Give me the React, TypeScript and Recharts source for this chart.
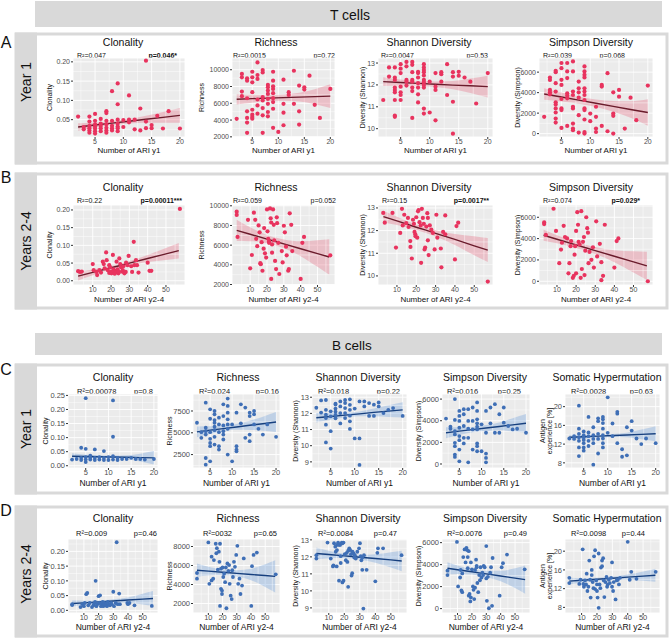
import React from 'react';
import { ComposedChart, Scatter, Line, Area, XAxis, YAxis, CartesianGrid, ReferenceLine } from 'recharts';

type Pt = [number, number];
type Fit = [number, number, number, number]; // x, fit, lower, upper

// ---------------- T cells, Year 1 ----------------
const tClonY1: Pt[] = [[2,0.058],[3,0.031],[3,0.025],[4,0.058],[4,0.045],[4,0.034],[4,0.028],[4,0.022],[4,0.016],[5,0.065],[5,0.047],[5,0.038],[5,0.032],[5,0.027],[5,0.020],[5,0.014],[6,0.052],[6,0.040],[6,0.034],[6,0.028],[6,0.020],[7,0.072],[7,0.067],[7,0.047],[7,0.038],[7,0.029],[7,0.022],[7,0.016],[8,0.124],[8,0.047],[8,0.034],[8,0.028],[8,0.022],[9,0.144],[9,0.090],[9,0.050],[9,0.040],[9,0.032],[9,0.028],[9,0.020],[10,0.049],[10,0.031],[11,0.113],[11,0.050],[11,0.043],[12,0.050],[12,0.025],[13,0.079],[13,0.022],[14,0.203],[14,0.045],[14,0.028],[15,0.036],[15,0.028],[16,0.060],[17,0.027],[18,0.072],[20,0.027]];
const tClonY1Fit: Fit[] = [[2,0.031,0.021,0.041],[5,0.036,0.030,0.042],[8,0.041,0.036,0.046],[11,0.046,0.040,0.052],[14,0.051,0.042,0.060],[17,0.056,0.042,0.070],[20,0.061,0.042,0.080]];

const tRichY1: Pt[] = [[2,4150],[3,9500],[3,9100],[3,7400],[3,6850],[4,8980],[4,8700],[4,6600],[4,5040],[4,4250],[4,3700],[4,2480],[5,9760],[5,9100],[5,8500],[5,7320],[5,5230],[5,4640],[5,4370],[5,4170],[6,10870],[6,9370],[6,8900],[6,6450],[6,5750],[6,4760],[7,9960],[7,9680],[7,6730],[7,6340],[7,5430],[7,4560],[7,2480],[8,8190],[8,7910],[8,7520],[8,7120],[8,6530],[8,5940],[8,4960],[8,4440],[9,9760],[9,8700],[9,8030],[9,7710],[9,7200],[9,6610],[9,6140],[9,5350],[9,3070],[10,2590],[11,8820],[11,5940],[11,4880],[11,3380],[12,7320],[12,7000],[13,9880],[13,5940],[14,8110],[14,5040],[14,3460],[15,7910],[15,7640],[16,9290],[17,5820],[18,4250],[20,7710]];
const tRichY1Fit: Fit[] = [[2,6490,5860,7120],[5,6550,6070,7030],[8,6610,6260,6960],[11,6670,6300,7040],[14,6730,6200,7260],[17,6790,5900,7680],[20,6850,5430,8270]];

const tShanY1: Pt[] = [[2,11.31],[3,12.8],[3,12.38],[4,12.8],[4,12.34],[4,12.23],[4,11.88],[4,11.77],[4,11.66],[4,11.31],[4,10.6],[4,10.54],[5,12.95],[5,12.74],[5,12.54],[5,11.92],[5,11.66],[5,11.54],[5,11.31],[6,13.05],[6,12.85],[6,12.23],[6,12.15],[6,11.97],[7,13.05],[7,12.92],[7,12.58],[7,12.23],[7,12.15],[7,11.88],[7,11.72],[7,10.49],[8,12.6],[8,12.54],[8,12.34],[8,12.08],[8,11.88],[8,11.57],[8,11.2],[9,12.95],[9,12.8],[9,12.68],[9,12.58],[9,12.43],[9,12.23],[9,12.12],[9,12.0],[9,11.88],[9,10.92],[9,10.69],[10,12.15],[10,10.74],[11,12.54],[11,11.92],[11,11.77],[11,10.38],[12,12.58],[12,12.49],[12,12.15],[13,12.95],[13,11.54],[14,12.58],[14,12.38],[14,11.23],[14,9.77],[15,12.6],[15,12.42],[16,12.34],[17,12.15],[18,11.15],[20,12.54]];
const tShanY1Fit: Fit[] = [[2,12.15,11.95,12.35],[5,12.11,11.97,12.25],[8,12.07,11.96,12.18],[11,12.03,11.9,12.16],[14,11.99,11.8,12.18],[17,11.96,11.63,12.29],[20,11.92,11.42,12.42]];

const tSimpY1: Pt[] = [[2,1640],[3,5475],[3,5245],[3,4260],[3,4030],[3,3830],[4,6130],[4,6000],[4,4920],[4,4100],[4,3050],[4,2850],[4,2460],[4,2060],[4,1470],[4,1080],[5,6890],[5,6390],[5,5250],[5,4750],[5,3380],[5,2460],[5,2300],[5,560],[6,6890],[6,6070],[6,5420],[6,3930],[6,3700],[6,3440],[6,750],[7,7050],[7,6070],[7,4100],[7,3770],[7,2620],[7,2460],[7,980],[7,490],[7,330],[8,5080],[8,4430],[8,4030],[8,3510],[8,1800],[8,100],[9,6560],[9,6070],[9,5740],[9,5480],[9,4430],[9,4100],[9,3770],[9,3280],[9,2460],[9,2300],[9,1380],[9,160],[9,0],[10,1960],[10,1210],[11,2620],[11,1640],[11,490],[11,160],[12,4750],[12,4590],[12,750],[13,5900],[13,230],[14,4030],[14,1960],[14,1740],[14,0],[15,4260],[15,3610],[16,490],[17,3510],[18,1310],[20,4690]];
const tSimpY1Fit: Fit[] = [[2,3870,3300,4440],[5,3570,3130,4010],[8,3270,2920,3620],[11,2960,2590,3330],[14,2660,2130,3190],[17,2360,1560,3160],[20,2060,770,3350]];

// ---------------- T cells, Years 2-4 ----------------
const tClonY24: Pt[] = [[2,0.027],[3,0.025],[4,0.026],[10,0.047],[10.5,0.030],[12,0.025],[12.4,0.016],[13.6,0.030],[14.5,0.023],[15.5,0.054],[16,0.047],[16.5,0.035],[17.3,0.080],[17.6,0.058],[18.2,0.030],[19,0.044],[19,0.022],[19.5,0.038],[20,0.025],[20.2,0.021],[21,0.073],[21.3,0.032],[21.8,0.023],[22,0.020],[22.4,0.028],[23,0.054],[23,0.024],[23.6,0.032],[24,0.021],[24.2,0.025],[24.5,0.063],[25,0.047],[25.5,0.038],[26,0.026],[26.4,0.030],[26.7,0.041],[27.3,0.021],[28,0.025],[28.2,0.051],[29,0.044],[29.6,0.070],[31,0.041],[31.5,0.025],[32.4,0.110],[32.7,0.044],[33.6,0.058],[34.2,0.044],[35,0.023],[40,0.051],[41,0.028],[42,0.028],[57.6,0.203]];
const tClonY24Fit: Fit[] = [[2,0.013,0.001,0.025],[10,0.0235,0.0155,0.0315],[20,0.0366,0.0316,0.0416],[25,0.0431,0.0381,0.0481],[30,0.0497,0.0437,0.0557],[40,0.0628,0.0528,0.0728],[50,0.0758,0.0588,0.0928],[57,0.085,0.063,0.107]];

const tRichY24: Pt[] = [[2,9400],[2,9070],[2.5,6840],[8.7,8570],[10,3640],[11,5000],[12.2,9300],[13,8570],[13.6,6640],[14.2,5900],[15,8000],[15.6,7300],[16,4170],[16.3,4070],[16.8,6300],[17.3,3400],[18,5640],[18.3,7740],[18.8,5170],[19.5,4740],[20,9630],[20.3,7400],[20.7,6640],[21.2,6400],[21.2,6240],[21.8,9730],[22.2,8730],[22.5,8300],[23,6070],[23,5240],[22.5,2570],[23.6,9630],[24,8070],[24.3,6500],[24.8,4400],[25.4,3570],[25.8,8830],[26,8230],[26.7,6240],[27.3,3070],[28.8,5400],[29.3,4240],[30,7970],[30.6,7300],[31.3,5840],[31.7,4970],[32.6,3400],[33,3570],[33.5,9230],[34.4,8070],[35,5400],[40,2570],[41,6240],[42,6840],[57.6,4970]];
const tRichY24Fit: Fit[] = [[2,7500,6420,8580],[10,7107,6407,7807],[20,6616,6196,7036],[25,6370,5970,6770],[30,6125,5675,6575],[40,5634,4884,6384],[50,5143,3793,6493],[57,4800,3000,6600]];

const tShanY24: Pt[] = [[2.9,12.78],[3.7,12.35],[7.7,12.78],[9.5,11.25],[11.7,11.9],[12.6,12.96],[13.8,12.7],[13,12.23],[14.8,12.33],[15.7,12.56],[16,12.16],[16.9,11.54],[17,11.28],[17.7,10.77],[18.3,12.48],[18.8,12.3],[19.1,11.94],[19.5,11.84],[19.6,11.75],[20,12.59],[20.5,11.69],[20.9,12.85],[21.2,12.91],[21.7,12.37],[22.3,12.23],[22.5,10.58],[22.9,12.96],[23.4,12.56],[23.9,12.3],[24.3,11.17],[24.6,11.25],[25.2,12.18],[25.7,12.77],[26,12.56],[26,11.57],[26.4,10.92],[27,12.23],[27.8,12.04],[28.6,11.9],[29.5,11.17],[30.4,12.7],[30.9,11.69],[32.7,11.21],[33,10.38],[33.9,11.94],[35,12.67],[35,11.84],[40,10.73],[40.8,12.2],[41.7,12.35],[57,9.75]];
const tShanY24Fit: Fit[] = [[3,12.62,12.36,12.88],[10,12.43,12.25,12.61],[20,12.15,12.03,12.27],[25,12.02,11.9,12.14],[30,11.88,11.74,12.02],[40,11.61,11.37,11.85],[50,11.33,10.91,11.75],[57,11.14,10.61,11.67]];

const tSimpY24: Pt[] = [[3.3,5520],[3.3,5360],[4.2,4340],[8.2,6800],[9.5,4720],[11.2,1700],[12.1,2970],[12.6,3610],[13.5,5200],[14.2,4150],[15.3,4020],[16,740],[16.5,1700],[17.1,3290],[17.4,3770],[18.3,320],[18.8,510],[19.2,2490],[19.5,3290],[20,740],[20,4720],[20.6,6480],[21,5300],[21.3,3700],[21.8,3450],[22.4,320],[22.7,6570],[23,1150],[23.6,3700],[24.1,4150],[24.4,580],[24.8,2870],[25.3,6000],[25.8,4980],[26.2,4560],[26.5,1700],[27,2750],[28,2010],[28.8,3190],[29.3,1280],[30.5,5620],[31,2330],[32.4,3510],[33.2,100],[33.2,1790],[34.1,510],[35,5300],[40,1280],[41.2,3770],[42.1,4020],[57.5,0]];
const tSimpY24Fit: Fit[] = [[3,4310,3800,4820],[10,3938,3568,4308],[20,3407,3117,3697],[25,3141,2851,3431],[30,2876,2546,3206],[40,2345,1785,2905],[50,1814,814,2814],[57,1440,110,2770]];

// ---------------- B cells, Year 1 ----------------
const bClonY1: Pt[] = [[2,0.022],[3,0.024],[4,0.028],[4,0.064],[4,0.020],[5,0.24],[5,0.06],[5,0.031],[5,0.022],[5,0.013],[6,0.028],[6,0.022],[6,0.036],[7,0.058],[7,0.028],[7,0.020],[8,0.031],[8,0.022],[9,0.052],[9,0.028],[9,0.020],[10,0.031],[10,0.020],[11,0.232],[11,0.103],[11,0.034],[11,0.022],[12,0.028],[12,0.020],[13,0.024],[14,0.024],[15,0.028],[16,0.024],[17,0.024],[18,0.022],[20,0.024]];
const bClonY1Fit: Fit[] = [[2,0.034,0.024,0.044],[5,0.033,0.027,0.039],[8,0.032,0.027,0.037],[11,0.031,0.026,0.036],[14,0.030,0.023,0.037],[17,0.029,0.015,0.043],[20,0.028,0.004,0.052]];

const bRichY1: Pt[] = [[2,6150],[3,5075],[3,4420],[4,8460],[4,5580],[4,5190],[4,4800],[4,2110],[4,1340],[5,7690],[5,6610],[5,5075],[5,4310],[5,3840],[5,3460],[5,1730],[6,7500],[6,7120],[6,6460],[6,6150],[6,5690],[6,5300],[6,4540],[6,3650],[7,6730],[7,5960],[7,5075],[7,3460],[7,3070],[8,8270],[8,6920],[8,5850],[8,5190],[8,4800],[8,4230],[9,8920],[9,8080],[9,7310],[9,6540],[9,5960],[9,5460],[9,2500],[10,5960],[10,1730],[11,7310],[11,3460],[11,3070],[11,2880],[12,8270],[12,6080],[13,7890],[13,4420],[14,7310],[14,6920],[14,4800],[14,4040],[15,7500],[15,7120],[15,5960],[16,5460],[17,4800],[18,5960],[20,4540]];
const bRichY1Fit: Fit[] = [[2,5110,4490,5730],[5,5300,4850,5750],[8,5480,5180,5780],[11,5670,5340,6000],[14,5860,5330,6390],[17,6040,5230,6850],[20,6230,5080,7380]];

const bShanY1: Pt[] = [[2,12.35],[3,12.05],[3,12.8],[4,12.83],[4,12.22],[4,11.92],[4,11.71],[4,11.3],[4,10.2],[5,12.13],[5,11.82],[5,10.9],[5,9.82],[6,12.6],[6,12.55],[6,12.3],[6,12.1],[6,11.9],[6,11.7],[7,12.74],[7,12.43],[7,12.02],[7,11.38],[8,12.83],[8,12.64],[8,12.33],[8,12.02],[8,11.71],[9,12.87],[9,12.53],[9,12.22],[9,11.86],[9,11.51],[9,11.04],[10,12.3],[10,10.45],[11,12.74],[11,10.45],[11,8.81],[12,12.74],[12,12.43],[13,12.64],[13,11.84],[14,12.54],[14,11.84],[15,12.68],[15,12.43],[16,12.02],[17,12.22],[18,12.33],[20,11.84]];
const bShanY1Fit: Fit[] = [[2,11.73,11.43,12.03],[5,11.81,11.6,12.02],[8,11.89,11.75,12.03],[11,11.97,11.82,12.12],[14,12.06,11.82,12.3],[17,12.14,11.78,12.5],[20,12.22,11.75,12.69]];

const bSimpY1: Pt[] = [[2,4200],[3,3450],[3,3260],[4,6000],[4,4070],[4,3040],[4,2730],[4,1960],[4,1650],[4,870],[4,650],[5,4910],[5,4440],[5,3980],[5,3350],[5,2580],[5,2200],[5,1330],[5,250],[6,5070],[6,4600],[6,3510],[6,2420],[6,1900],[7,5070],[7,3980],[7,3260],[7,2420],[7,150],[8,5220],[8,3980],[8,3200],[8,1330],[9,5690],[9,4910],[9,4130],[9,3760],[9,3450],[9,3200],[9,1900],[9,1650],[9,1180],[10,3670],[10,1180],[11,4910],[11,2890],[11,960],[11,560],[11,150],[12,5220],[12,3760],[13,5530],[13,2890],[14,4600],[14,2890],[15,5220],[15,3820],[16,3510],[17,3200],[18,3260],[20,2890]];
const bSimpY1Fit: Fit[] = [[2,2890,2390,3390],[5,3040,2680,3400],[8,3180,2930,3430],[11,3330,3060,3600],[14,3470,3110,3830],[17,3620,3000,4240],[20,3760,2900,4620]];

const bShmY1: Pt[] = [[2,13.2],[3,13.7],[3,13.1],[4,20.2],[4,15.3],[4,14.2],[4,13.45],[4,12.7],[4,11.3],[4,9.45],[5,14.7],[5,13.9],[5,13.45],[5,12.9],[5,12.2],[5,11.3],[5,10.6],[6,17.8],[6,14.5],[6,13.7],[6,12.7],[6,11.6],[7,15.6],[7,13.9],[7,13.1],[7,12.2],[7,7.6],[8,17.5],[8,16.9],[8,14.2],[8,13.1],[8,10.0],[9,17.8],[9,17.3],[9,16.5],[9,15.3],[9,13.9],[9,13.2],[9,12.2],[9,11.3],[10,22.0],[10,14.4],[11,16.4],[11,13.7],[12,18.9],[12,18.5],[12,12.2],[13,10.9],[13,9.3],[14,15.6],[14,9.6],[15,16.9],[15,14.9],[16,13.2],[17,12.0],[18,13.2],[20,12.2]];
const bShmY1Fit: Fit[] = [[2,13.45,12.85,14.05],[5,13.58,13.15,14.01],[8,13.7,13.38,14.02],[11,13.83,13.5,14.16],[14,13.95,13.45,14.45],[17,14.08,13.05,15.11],[20,14.2,12.6,15.8]];

// ---------------- B cells, Years 2-4 ----------------
const bClonY24: Pt[] = [[2,0.021],[2,0.018],[7.7,0.011],[9,0.021],[10,0.014],[10.6,0.025],[11.6,0.055],[12.3,0.059],[13,0.017],[14,0.025],[15.5,0.011],[16.5,0.017],[17,0.023],[17.6,0.029],[18,0.10],[18.5,0.014],[19.2,0.021],[20,0.048],[20.5,0.025],[21,0.051],[21.6,0.014],[22.3,0.021],[22.8,0.029],[23.2,0.014],[24,0.025],[24.6,0.017],[25,0.023],[25.7,0.014],[26.3,0.029],[27,0.021],[27.8,0.017],[28.5,0.025],[29,0.021],[30,0.063],[30.5,0.014],[31.6,0.025],[32.3,0.231],[33,0.021],[34,0.057],[34.5,0.021],[39.5,0.025],[40,0.021],[41,0.025],[44.4,0.017],[56.2,0.015]];
const bClonY24Fit: Fit[] = [[2,0.023,0.013,0.033],[10,0.0255,0.0185,0.0325],[20,0.0287,0.0237,0.0337],[25,0.0302,0.0252,0.0352],[30,0.0318,0.0258,0.0378],[40,0.035,0.026,0.044],[50,0.0381,0.0201,0.0561],[57,0.0403,0.0153,0.0653]];

const bRichY24: Pt[] = [[2,5210],[2,4610],[10,8430],[10.7,4070],[12.3,6930],[12.3,4430],[13.4,4610],[13.9,6570],[15.2,8290],[15.6,7290],[16,7820],[16.7,5570],[17.4,7460],[17.8,6390],[18.2,8290],[18.9,5680],[18.9,3540],[19.6,3360],[19.6,3000],[18.2,1750],[20,5790],[20.5,4790],[21.1,5140],[21.8,4250],[22.3,5790],[22.7,1500],[23.4,6210],[24.1,5430],[24.6,6040],[25,4070],[25.7,2820],[26.4,2470],[26.8,5500],[27.3,4790],[28,6390],[28.7,5860],[29.6,7110],[30.4,8070],[31,4070],[31.9,4610],[32.6,3000],[33.7,3890],[34.9,6750],[40.2,1750],[40.7,5930],[41.8,7110],[44.1,7360],[57.4,5070]];
const bRichY24Fit: Fit[] = [[2,5500,4800,6200],[10,5407,4957,5857],[20,5291,4991,5591],[25,5233,4943,5523],[30,5175,4845,5505],[40,5059,4459,5659],[50,4943,3743,6143],[57,4860,3160,6560]];

const bShanY24: Pt[] = [[2,12.1],[2,11.9],[9.2,12.84],[11.3,11.9],[12.7,11.44],[13,11.5],[13.4,12.8],[14.2,12.6],[14.5,12.3],[15.1,11.44],[15.3,12.7],[15.3,12.4],[16,12.84],[16.6,10.6],[16.7,12.7],[17.3,12.7],[17.7,12.04],[17.7,11.64],[18.4,12.84],[18.8,12.8],[18.8,10.5],[19.5,12.84],[19.5,10.6],[20.3,12.16],[21,11.8],[21.6,12.24],[22,11.7],[22.5,10.24],[22.5,12.36],[23.2,12.5],[23.8,12.4],[24.3,12.16],[24.7,10.9],[25.1,11.04],[25.3,12.3],[26,12.2],[26.4,11.96],[26.8,12.1],[27.4,11.9],[28.4,12.3],[29.5,12.5],[30.1,12.8],[30.6,12.04],[31,11.8],[31.6,11.96],[31.6,11.24],[32.3,8.96],[32.7,12.1],[34.4,11.24],[40,10.56],[41.3,12.24],[41.7,12.5],[45,12.5],[56.9,12.1]];
const bShanY24Fit: Fit[] = [[2,12.2,11.85,12.55],[10,12.14,11.92,12.36],[20,12.06,11.93,12.19],[25,12.02,11.9,12.14],[30,11.98,11.84,12.12],[40,11.9,11.65,12.15],[50,11.82,11.37,12.27],[57,11.76,11.16,12.36]];

const bSimpY24: Pt[] = [[3,3450],[3,3050],[9.6,6060],[10.4,2020],[11.8,2830],[12.2,3510],[12.7,1650],[13.3,1490],[13.3,3200],[14,4690],[14.9,5380],[15.6,4200],[16.2,5530],[16.7,5320],[17.1,4690],[17.1,3670],[17.8,1180],[17.8,5220],[18.4,1330],[18.9,650],[19.3,1020],[19.3,4200],[20,3570],[20.7,2020],[21.1,1710],[21.6,870],[22.2,1900],[22.2,3510],[22.9,4450],[23.3,3890],[23.3,3760],[23.8,2330],[24.4,1490],[25.1,3050],[25.6,2580],[26,3760],[26.7,2830],[27.3,3260],[27.8,3050],[28.2,3890],[28.9,3760],[30,5690],[30,2740],[30.4,710],[31.1,2890],[31.8,30],[32.7,3260],[33.3,3760],[34,250],[34.4,4600],[39.3,1180],[40.7,3760],[41.6,4130],[44.4,4910],[56.7,3570]];
const bSimpY24Fit: Fit[] = [[3,3670,3120,4220],[10,3537,3157,3917],[20,3346,3096,3596],[25,3250,3010,3490],[30,3154,2874,3434],[40,2963,2483,3443],[50,2772,1872,3672],[57,2640,1360,3920]];

const bShmY24: Pt[] = [[2,14.3],[2,13.2],[8.5,13.0],[9.3,13.9],[10.7,20.4],[11.1,13.0],[11.5,12.4],[12.2,13.75],[12.9,12.9],[13.3,15.2],[13.8,11.5],[14.4,12.4],[15,18.0],[15.5,13.9],[15.9,10.1],[16.6,16.0],[16.6,14.9],[17.2,13.4],[17.7,12.1],[18.1,18.9],[18.8,20.2],[18.8,11.9],[19.5,13.75],[20,12.9],[20,11.5],[20.4,10.1],[21.1,7.9],[21.1,19.5],[21.7,12.9],[22.2,12.1],[22.6,16.5],[23.3,16.8],[23.3,18],[24,18.5],[24.4,13.75],[24.8,10.2],[25.5,13.4],[26.2,14.5],[26.6,12.4],[27,12.9],[27.7,13.9],[28.4,13.2],[29.2,14.3],[29.8,17.6],[29.8,12.4],[30.5,11.5],[30.9,13.4],[32.1,9.7],[32.8,13.75],[33.6,13.9],[34.3,12.9],[35,14.3],[40,22.0],[41.3,13.9],[42.3,15.6],[45.7,14.1],[58.2,15.6]];
const bShmY24Fit: Fit[] = [[2,13.6,12.9,14.3],[10,13.78,13.33,14.23],[20,14.0,13.7,14.3],[25,14.11,13.81,14.41],[30,14.22,13.89,14.55],[40,14.45,13.9,15.0],[50,14.67,13.67,15.67],[58,14.85,13.45,16.25]];

// ---------------- tick values / labels ----------------
const xTicksY1 = [5, 10, 15, 20];
const xTicksY24 = [10, 20, 30, 40, 50];
const clonTicksA = [0.05, 0.1, 0.15, 0.2];
const clonTicks20 = [0, 0.05, 0.1, 0.15, 0.2];
const clonTicks25 = [0, 0.05, 0.1, 0.15, 0.2, 0.25];
const richTicksT = [2000, 4000, 6000, 8000, 10000];
const richTicksBY1 = [2500, 5000, 7500];
const richTicksBY24 = [2000, 4000, 6000, 8000];
const shanTicksT = [10, 11, 12, 13];
const shanTicksB = [9, 10, 11, 12, 13];
const simpTicks = [0, 2000, 4000, 6000];
const shmTicks = [8, 12, 16, 20];

const FONT = '"Liberation Sans", Arial, Helvetica, sans-serif';
const PAL = {
  T: { pt: '#E8335E', line: '#6A1B2B', band: '#E8798F' },
  B: { pt: '#3F6FB6', line: '#163F7E', band: '#7AA6DE' },
};

type RowKey = 'A' | 'B' | 'C' | 'D';
const ROWS: Record<RowKey, { title: number; stat: number; top: number; bot: number; xlab: number; xTitle: string; xTicks: number[]; xDom: [number, number]; fs: number }> = {
  A: { title: 42, stat: 55, top: 58, bot: 137, xlab: 150, xTitle: 'Number of ARI y1', xTicks: xTicksY1, xDom: [1.1, 20.9], fs: 7 },
  B: { title: 187, stat: 200, top: 205, bot: 285, xlab: 299, xTitle: 'Number of ARI y2-4', xTicks: xTicksY24, xDom: [-0.8, 60.4], fs: 7 },
  C: { title: 377, stat: 391, top: 394, bot: 468, xlab: 483, xTitle: 'Number of ARI y1', xTicks: xTicksY1, xDom: [1.1, 20.9], fs: 7.5 },
  D: { title: 518, stat: 533, top: 539, bot: 613, xlab: 627, xTitle: 'Number of ARI y2-4', xTicks: xTicksY24, xDom: [-0.8, 60.4], fs: 7.5 },
};

const T_COLS = [
  { x0: 73, x1: 185, title: 123, ylab: 49, yTitle: ['Clonality'], name: 'Clonality' },
  { x0: 232, x1: 335, title: 276, ylab: 201, yTitle: ['Richness'], name: 'Richness' },
  { x0: 378, x1: 493, title: 429, ylab: 362, yTitle: ['Diversity (Shannon)'], name: 'Shannon Diversity' },
  { x0: 539, x1: 653, title: 591, ylab: 517, yTitle: ['Diversity (Simpson)'], name: 'Simpson Diversity' },
];
const B_COLS = [
  { x0: 68, x1: 158, title: 113, ylab: 45, yTitle: ['Clonality'], name: 'Clonality' },
  { x0: 193, x1: 280, title: 238, ylab: 169, yTitle: ['Richness'], name: 'Richness' },
  { x0: 312, x1: 407, title: 358, ylab: 295, yTitle: ['Diversity (Shannon)'], name: 'Shannon Diversity' },
  { x0: 442, x1: 530, title: 485, ylab: 418, yTitle: ['Diversity (Simpson)'], name: 'Simpson Diversity' },
  { x0: 565, x1: 660, title: 607, ylab: 546, yTitle: ['Antigen', 'experience [%]'], name: 'Somatic Hypermutation' },
];

interface PanelDef {
  kind: 'T' | 'B'; row: RowKey; col: number; pts: Pt[]; fit: Fit[];
  yDom: [number, number]; yTicks: number[]; dec: number; xDom?: [number, number];
  r2: string; p: string; bold?: boolean; sl: number; sr: number;
}

const PANELS: PanelDef[] = [
  { kind: 'T', row: 'A', col: 0, pts: tClonY1, fit: tClonY1Fit, yDom: [0.005, 0.21], yTicks: clonTicksA, dec: 2, r2: 'R²=0.047', p: 'p=0.046*', bold: true, sl: 77, sr: 177 },
  { kind: 'T', row: 'A', col: 1, pts: tRichY1, fit: tRichY1Fit, yDom: [1980, 11400], yTicks: richTicksT, dec: 0, r2: 'R²=0.0015', p: 'p=0.72', sl: 233, sr: 335 },
  { kind: 'T', row: 'A', col: 2, pts: tShanY1, fit: tShanY1Fit, yDom: [9.62, 13.23], yTicks: shanTicksT, dec: 0, r2: 'R²=0.0047', p: 'p=0.53', sl: 381, sr: 488 },
  { kind: 'T', row: 'A', col: 3, pts: tSimpY1, fit: tSimpY1Fit, yDom: [-330, 7380], yTicks: simpTicks, dec: 0, r2: 'R²=0.039', p: 'p=0.068', sl: 543, sr: 625 },
  { kind: 'T', row: 'B', col: 0, pts: tClonY24, fit: tClonY24Fit, yDom: [-0.012, 0.214], yTicks: clonTicks20, dec: 2, r2: 'R²=0.22', p: 'p=0.00011***', bold: true, sl: 77, sr: 182 },
  { kind: 'T', row: 'B', col: 1, pts: tRichY24, fit: tRichY24Fit, yDom: [1950, 10080], yTicks: richTicksT, dec: 0, r2: 'R²=0.059', p: 'p=0.052', sl: 233, sr: 336 },
  { kind: 'T', row: 'B', col: 2, pts: tShanY24, fit: tShanY24Fit, yDom: [9.6, 13.13], yTicks: shanTicksT, dec: 0, xDom: [0.2, 59.7], r2: 'R²=0.15', p: 'p=0.0017**', bold: true, sl: 382, sr: 489 },
  { kind: 'T', row: 'B', col: 3, pts: tSimpY24, fit: tSimpY24Fit, yDom: [-350, 7150], yTicks: simpTicks, dec: 0, xDom: [0.6, 60.2], r2: 'R²=0.074', p: 'p=0.029*', bold: true, sl: 543, sr: 640 },
  { kind: 'B', row: 'C', col: 0, pts: bClonY1, fit: bClonY1Fit, yDom: [-0.008, 0.255], yTicks: clonTicks25, dec: 2, r2: 'R²=0.00078', p: 'p=0.8', sl: 77, sr: 153 },
  { kind: 'B', row: 'C', col: 1, pts: bRichY1, fit: bRichY1Fit, yDom: [960, 9450], yTicks: richTicksBY1, dec: 0, r2: 'R²=0.024', p: 'p=0.16', sl: 199, sr: 279 },
  { kind: 'B', row: 'C', col: 2, pts: bShanY1, fit: bShanY1Fit, yDom: [8.62, 13.2], yTicks: shanTicksB, dec: 0, r2: 'R²=0.018', p: 'p=0.22', sl: 318, sr: 400 },
  { kind: 'B', row: 'C', col: 3, pts: bSimpY1, fit: bSimpY1Fit, yDom: [-370, 6470], yTicks: simpTicks, dec: 0, r2: 'R²=0.016', p: 'p=0.25', sl: 447, sr: 521 },
  { kind: 'B', row: 'C', col: 4, pts: bShmY1, fit: bShmY1Fit, yDom: [6.9, 22.7], yTicks: shmTicks, dec: 0, r2: 'R²=0.0028', p: 'p=0.63', sl: 571, sr: 653 },
  { kind: 'B', row: 'D', col: 0, pts: bClonY24, fit: bClonY24Fit, yDom: [-0.009, 0.242], yTicks: clonTicks20, dec: 2, r2: 'R²=0.009', p: 'p=0.46', sl: 76, sr: 157 },
  { kind: 'B', row: 'D', col: 1, pts: bRichY24, fit: bRichY24Fit, yDom: [1000, 8790], yTicks: richTicksBY24, dec: 0, r2: 'R²=0032', p: 'p=0.65', sl: 203, sr: 277 },
  { kind: 'B', row: 'D', col: 2, pts: bShanY24, fit: bShanY24Fit, yDom: [8.7, 13.05], yTicks: shanTicksB, dec: 0, r2: 'R²=0.0084', p: 'p=0.47', sl: 318, sr: 397 },
  { kind: 'B', row: 'D', col: 3, pts: bSimpY24, fit: bSimpY24Fit, yDom: [-400, 6330], yTicks: simpTicks, dec: 0, r2: 'R²=0.0076', p: 'p=0.49', sl: 447, sr: 527 },
  { kind: 'B', row: 'D', col: 4, pts: bShmY24, fit: bShmY24Fit, yDom: [6.8, 22.6], yTicks: shmTicks, dec: 0, xDom: [-0.8, 61], r2: 'R²=0.0098', p: 'p=0.44', sl: 571, sr: 645 },
];

function minorOf(ticks: number[], dom: [number, number]): number[] {
  if (ticks.length < 2) return [];
  const step = ticks[1] - ticks[0];
  const out: number[] = [];
  for (let v = ticks[0] - step / 2; v <= dom[1]; v += step) {
    if (v >= dom[0]) out.push(v);
  }
  return out;
}

function colOf(p: PanelDef) {
  return p.kind === 'T' ? T_COLS[p.col] : B_COLS[p.col];
}

function Panel({ p }: { p: PanelDef }) {
  const row = ROWS[p.row];
  const c = colOf(p);
  const pal = PAL[p.kind];
  const L = 30, T = 2, R = 2, Bh = 14;
  const w = c.x1 - c.x0, h = row.bot - row.top;
  const xDom = p.xDom || row.xDom;
  const fitData = p.fit.map(([x, f, lo, hi]) => ({ x, fit: f, band: [lo, hi] }));
  const pts = p.pts.map(([x, y]) => ({ x, y }));
  const tickStyle = { fontSize: row.fs, fill: '#4D4D4D', fontFamily: FONT };
  const fmt = (v: number) => (p.dec > 0 ? v.toFixed(p.dec) : String(v));
  const xMinor = minorOf(row.xTicks, xDom);
  const yMinor = minorOf(p.yTicks, p.yDom);
  const r = p.kind === 'T' ? 2.1 : 1.9;
  return (
    <div style={{ position: 'absolute', left: c.x0 - L, top: row.top - T, width: w + L + R, height: h + T + Bh }}>
      <ComposedChart width={w + L + R} height={h + T + Bh} data={fitData} margin={{ top: T, right: R, bottom: 0, left: 0 }}>
        <CartesianGrid fill="#EBEBEB" stroke="#FFFFFF" strokeWidth={0.9} />
        <XAxis type="number" dataKey="x" domain={xDom} ticks={row.xTicks} allowDataOverflow interval={0}
          height={Bh} tickSize={2} tickMargin={0} axisLine={false} tick={tickStyle} tickLine={{ stroke: '#333333' }} />
        <YAxis type="number" domain={p.yDom} ticks={p.yTicks} allowDataOverflow interval={0}
          width={L} tickSize={2} tickMargin={1} axisLine={false} tick={tickStyle} tickLine={{ stroke: '#333333' }} tickFormatter={fmt} />
        {xMinor.map((v) => (
          <ReferenceLine key={'mx' + v} x={v} stroke="#FFFFFF" strokeWidth={0.45} />
        ))}
        {yMinor.map((v) => (
          <ReferenceLine key={'my' + v} y={v} stroke="#FFFFFF" strokeWidth={0.45} />
        ))}
        <Scatter data={pts} dataKey="y" isAnimationActive={false}
          shape={(s: any) => <circle cx={s.cx} cy={s.cy} r={r} fill={pal.pt} />} />
        <Area dataKey="band" type="monotone" fill={pal.band} fillOpacity={0.38} stroke="none" isAnimationActive={false} />
        <Line dataKey="fit" type="linear" stroke={pal.line} strokeWidth={1.4} dot={false} isAnimationActive={false} />
      </ComposedChart>
    </div>
  );
}

function PanelTexts({ p }: { p: PanelDef }) {
  const row = ROWS[p.row];
  const c = colOf(p);
  const cy = (row.top + row.bot) / 2;
  const cx = (c.x0 + c.x1) / 2;
  const statFs = p.kind === 'T' ? 7 : 7.5;
  const xlFs = p.kind === 'T' ? 8 : 8.5;
  return (
    <g fontFamily={FONT}>
      <text x={c.title} y={row.title} textAnchor="middle" dominantBaseline="central" fontSize={10.5} fill="#111">{c.name}</text>
      <text x={p.sl} y={row.stat} dominantBaseline="central" fontSize={statFs} fill="#111">{p.r2}</text>
      <text x={p.sr} y={row.stat} textAnchor="end" dominantBaseline="central" fontSize={statFs} fill="#111" fontWeight={p.bold ? 'bold' : 'normal'}>{p.p}</text>
      <text x={cx} y={row.xlab} textAnchor="middle" dominantBaseline="central" fontSize={xlFs} fill="#111">{row.xTitle}</text>
      {c.yTitle.length === 1 ? (
        <text transform={`translate(${c.ylab},${cy}) rotate(-90)`} textAnchor="middle" dominantBaseline="central" fontSize={7} fill="#111">{c.yTitle[0]}</text>
      ) : (
        <g transform={`translate(${c.ylab},${cy}) rotate(-90)`}>
          <text x={0} y={-3.8} textAnchor="middle" dominantBaseline="central" fontSize={7} fill="#111">{c.yTitle[0]}</text>
          <text x={0} y={3.8} textAnchor="middle" dominantBaseline="central" fontSize={7} fill="#111">{c.yTitle[1]}</text>
        </g>
      )}
    </g>
  );
}

const BOX = '#D9D9D9';

function Frame() {
  const boxes = [
    { y: 34, h: 129, label: 'A', ly: 42, side: 'Year 1', sy: 82 },
    { y: 174, h: 134, label: 'B', ly: 177, side: 'Years 2-4', sy: 241 },
    { y: 365, h: 128, label: 'C', ly: 369, side: 'Year 1', sy: 429 },
    { y: 507, h: 129, label: 'D', ly: 510, side: 'Years 2-4', sy: 574 },
  ];
  return (
    <svg width={669} height={639} style={{ position: 'absolute', left: 0, top: 0 }} fontFamily={FONT}>
      <rect x={0} y={0} width={669} height={639} fill="#FFFFFF" />
      <rect x={35} y={1} width={627} height={26} fill={BOX} />
      <text x={350} y={15} textAnchor="middle" dominantBaseline="central" fontSize={14} fill="#111">T cells</text>
      <rect x={35} y={333} width={627} height={22} fill={BOX} />
      <text x={352} y={345} textAnchor="middle" dominantBaseline="central" fontSize={13.5} fill="#111">B cells</text>
      {boxes.map((b) => (
        <g key={b.label}>
          <rect x={16} y={b.y} width={651} height={b.h} fill="#FFFFFF" stroke={BOX} strokeWidth={3} />
          <rect x={15} y={b.y - 1.5} width={22} height={b.h + 3} fill={BOX} />
          <text x={6} y={b.ly} textAnchor="middle" dominantBaseline="central" fontSize={16} fill="#111">{b.label}</text>
          <text transform={`translate(26,${b.sy}) rotate(-90)`} textAnchor="middle" dominantBaseline="central" fontSize={14} fill="#111">{b.side}</text>
        </g>
      ))}
      {PANELS.map((p, i) => (
        <PanelTexts key={i} p={p} />
      ))}
    </svg>
  );
}

export default function App() {
  return (
    <div style={{ position: 'absolute', left: 0, top: 0, width: 669, height: 639, background: '#fff' }}>
      <Frame />
      {PANELS.map((p, i) => (
        <Panel key={i} p={p} />
      ))}
    </div>
  );
}
